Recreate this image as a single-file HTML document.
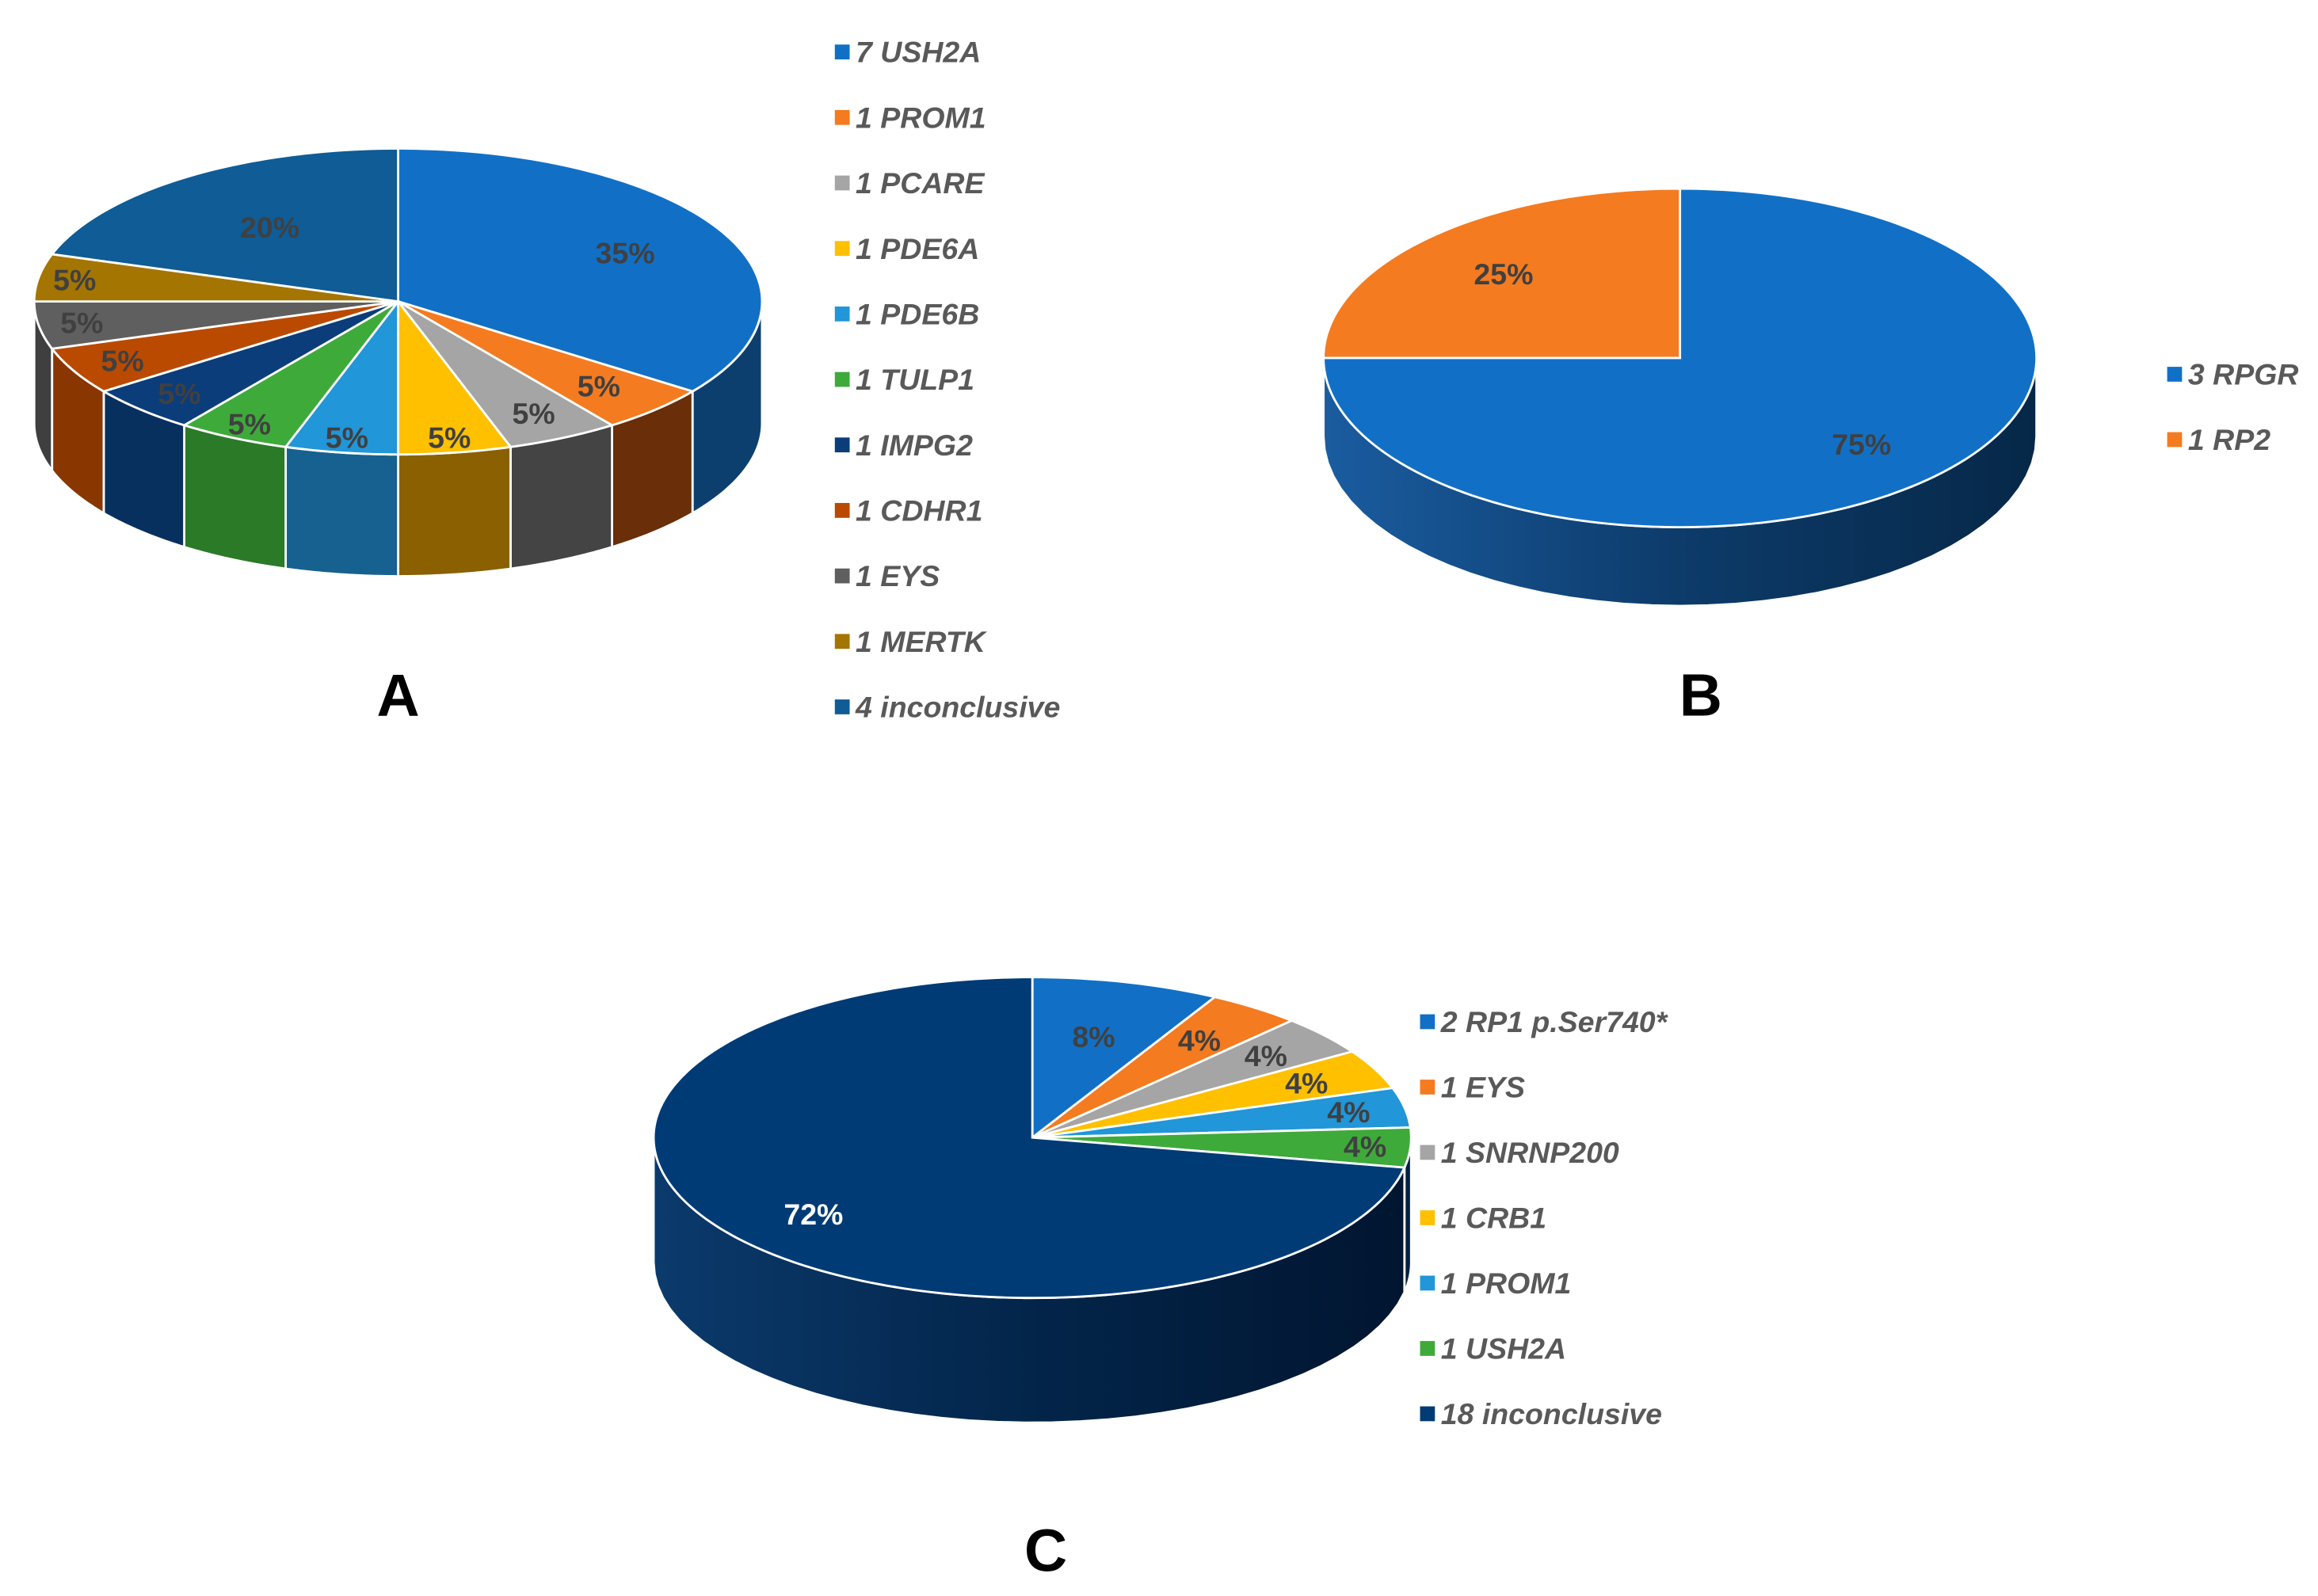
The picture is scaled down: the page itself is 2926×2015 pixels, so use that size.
<!DOCTYPE html>
<html><head><meta charset="utf-8"><style>
html,body{margin:0;padding:0;background:#fff;}
svg{display:block;}
</style></head><body>
<svg id="chart" width="2926" height="2015" viewBox="0 0 1560.5 1074.7" xmlns="http://www.w3.org/2000/svg" font-family="Liberation Sans, sans-serif">
<defs>
<linearGradient id="gB" x1="0" x2="1" y1="0" y2="0"><stop offset="0" stop-color="#1a5ca0"/><stop offset="0.5" stop-color="#0d3b6a"/><stop offset="1" stop-color="#062848"/></linearGradient>
<linearGradient id="gC" x1="0" x2="1" y1="0" y2="0"><stop offset="0" stop-color="#0b3a6c"/><stop offset="0.5" stop-color="#03254a"/><stop offset="1" stop-color="#011530"/></linearGradient>
</defs>
<rect width="1560.5" height="1074.7" fill="#fff"/>
</svg>
<script>
// Chart A data
const labelsA = ["7 USH2A","1 PROM1","1 PCARE","1 PDE6A","1 PDE6B","1 TULP1","1 IMPG2","1 CDHR1","1 EYS","1 MERTK","4 inconclusive"];
const valuesA = [7,1,1,1,1,1,1,1,1,1,4];
const colorsA = ["#1170c6","#f47b20","#a5a5a5","#ffc000","#2196d8","#3eaa3a","#0b3d7a","#b94a00","#5f5f5f","#a47500","#0f5c96"];
const sidesA = ["#0d3f6e","#6a2e08","#444444","#8a6000","#16618f","#2b7a28","#08305e","#8a3600","#3f3f3f","#7a5600","#0a4570"];
// Chart B data
const labelsB = ["3 RPGR","1 RP2"];
const valuesB = [3,1];
const colorsB = ["#1170c6","#f47b20"];
const sidesB = ["url(#gB)","#7a3a0a"];
// Chart C data
const labelsC = ["2 RP1 p.Ser740*","1 EYS","1 SNRNP200","1 CRB1","1 PROM1","1 USH2A","18 inconclusive"];
const valuesC = [2,1,1,1,1,1,18];
const colorsC = ["#1170c6","#f47b20","#a5a5a5","#ffc000","#2196d8","#3eaa3a","#003b75"];
const sidesC = ["#0d3b66","#7a3a0a","#444","#8a6000","#16618f","#02203f","url(#gC)"];

const NS="http://www.w3.org/2000/svg";
const svg=document.getElementById('chart');
function mk(tag,attrs,parent){const e=document.createElementNS(NS,tag);for(const k in attrs)e.setAttribute(k,attrs[k]);(parent||svg).appendChild(e);return e;}

function drawPie(id,g,values,colors,sides,labelOffsets,labelColors){
  const total=values.reduce((a,b)=>a+b,0);
  const {cx,cy,rx,ry,depth}=g;
  const pt=(t,dy)=>[cx+rx*Math.sin(t),cy-ry*Math.cos(t)+(dy||0)];
  const grp=mk('g',{});
  
  
  let a=0;const angs=[];
  values.forEach(v=>{const s=a;a+=v/total*2*Math.PI;angs.push([s,a]);});
  angs.forEach(([s,e],i)=>{
    const s2=Math.max(s,Math.PI/2),e2=Math.min(e,3*Math.PI/2);
    if(e2<=s2)return;
    const n=40;let d='';
    for(let k=0;k<=n;k++){const p=pt(s2+(e2-s2)*k/n);d+=(k?'L':'M')+p[0].toFixed(2)+','+p[1].toFixed(2);}
    for(let k=n;k>=0;k--){const p=pt(s2+(e2-s2)*k/n,depth);d+='L'+p[0].toFixed(2)+','+p[1].toFixed(2);}
    const el=mk('path',{d:d+'Z',fill:sides[i],stroke:'#fff','stroke-width':1.5},grp);
    
    
  });
  angs.forEach(([s,e],i)=>{
    const n=Math.max(4,Math.ceil((e-s)*40));let d='M'+cx+','+cy;
    for(let k=0;k<=n;k++){const p=pt(s+(e-s)*k/n);d+='L'+p[0].toFixed(2)+','+p[1].toFixed(2);}
    const el=mk('path',{d:d+'Z',fill:colors[i],stroke:'#fff','stroke-width':1.5},grp);
    
    
  });
  angs.forEach(([s,e],i)=>{
    const m=(s+e)/2;const f=labelOffsets[i];
    const x=cx+rx*f*Math.sin(m),y=cy-ry*f*Math.cos(m)+7;
    const t=mk('text',{x:x,y:y,'text-anchor':'middle','font-size':20,fill:labelColors?labelColors[i]:'#404040','font-weight':'bold'},grp);
    t.textContent=Math.round(values[i]/total*100)+'%';
    
    
  });
}
function drawLegend(id,labels,colors,x,y0,step){
  const g=mk('g',{});
  
  
  labels.forEach((l,i)=>{
    const y=y0+i*step;
    const r=mk('rect',{x:x,y:y-5,width:10,height:10,fill:colors[i]},g);
    
    
    const t=mk('text',{x:x+14,y:y+7,'font-size':20,'font-style':'italic','font-weight':'bold',fill:'#595959'},g);
    t.textContent=l;
    
    
  });
}
drawPie('a',{cx:268,cy:203,rx:245,ry:103,depth:82},valuesA,colorsA,sidesA,[0.7,0.78,0.82,0.9,0.9,0.9,0.85,0.85,0.88,0.9,0.6]);
drawLegend('a',labelsA,colorsA,562,35,44.1);
drawPie('b',{cx:1131,cy:241,rx:240,ry:114,depth:53},valuesB,colorsB,sidesB,[0.72,0.7]);
drawLegend('b',labelsB,colorsB,1459,252,44);
drawPie('c',{cx:695,cy:766,rx:255,ry:108,depth:84},valuesC,colorsC,sidesC,[0.65,0.75,0.8,0.8,0.85,0.88,0.75],['#404040','#404040','#404040','#404040','#404040','#404040','#ffffff']);
drawLegend('c',labelsC,colorsC,956,688,44);
[['A',268,482,'panel-label-a'],['B',1145,482,'panel-label-b'],['C',704,1058,'panel-label-c']].forEach(([s,x,y,n])=>{
  const t=mk('text',{x:x,y:y,'text-anchor':'middle','font-size':40,'font-weight':'bold',fill:'#000'});
  t.textContent=s;
  
  
});
</script>
</body></html>
